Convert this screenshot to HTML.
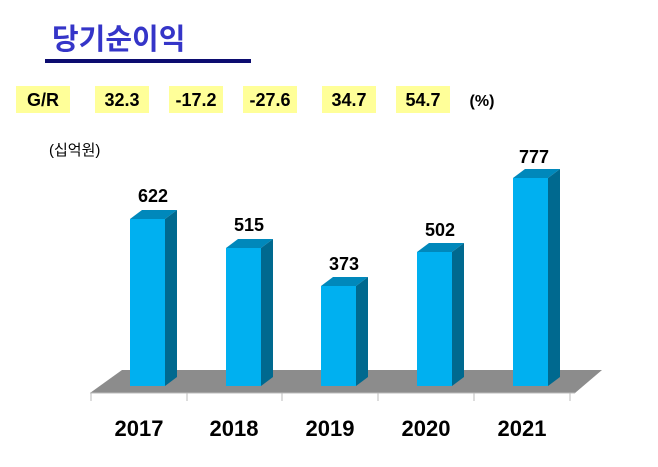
<!DOCTYPE html>
<html><head><meta charset="utf-8"><style>
body{margin:0;width:658px;height:462px;background:#fff;overflow:hidden;font-family:"Liberation Sans","Noto Sans CJK KR",sans-serif;}
</style></head><body>
<svg width="658" height="462" xmlns="http://www.w3.org/2000/svg" style="font-family:'Liberation Sans','Noto Sans CJK KR',sans-serif">
<text x="52" y="49" font-size="29" font-weight="bold" fill="#3535c8">당기순이익</text>
<rect x="45" y="59" width="206" height="4" fill="#0c0c70"/>
<g fill="#ffff99">
<rect x="16" y="86" width="54" height="27"/><rect x="95" y="86" width="54" height="27"/><rect x="169" y="86" width="54" height="27"/>
<rect x="243" y="86" width="54" height="27"/><rect x="322" y="86" width="54" height="27"/><rect x="396" y="86" width="54" height="27"/>
</g>
<g font-size="18" font-weight="bold" fill="#000" text-anchor="middle">
<text x="43" y="106">G/R</text><text x="122" y="106">32.3</text><text x="196" y="106">-17.2</text>
<text x="270" y="106">-27.6</text><text x="349" y="106">34.7</text><text x="423" y="106">54.7</text>
<text x="482" y="106" font-size="16">(%)</text>
</g>
<text x="49" y="155" font-size="15" fill="#000">(십억원)</text>
<polygon points="122,370 602,370 575,393 90,393" fill="#8c8c8c"/>
<line x1="90" y1="393" x2="575" y2="393" stroke="#bbb"/>
<g stroke="#bbb"><line x1="91" y1="393" x2="91" y2="401"/><line x1="187" y1="393" x2="187" y2="401"/><line x1="282" y1="393" x2="282" y2="401"/><line x1="378" y1="393" x2="378" y2="401"/><line x1="474" y1="393" x2="474" y2="401"/><line x1="570" y1="393" x2="570" y2="401"/></g>
<g id="bars">
<!-- bar: x, top -->
<polygon points="130,219 142,210 177,210 165,219" fill="#0088bb"/><polygon points="165,219 177,210 177,377 165,386" fill="#00698f"/><rect x="130" y="219" width="35" height="167" fill="#00b0f0"/>
<polygon points="226,248 238,239 273,239 261,248" fill="#0088bb"/><polygon points="261,248 273,239 273,377 261,386" fill="#00698f"/><rect x="226" y="248" width="35" height="138" fill="#00b0f0"/>
<polygon points="321,286 333,277 368,277 356,286" fill="#0088bb"/><polygon points="356,286 368,277 368,377 356,386" fill="#00698f"/><rect x="321" y="286" width="35" height="100" fill="#00b0f0"/>
<polygon points="417,252 429,243 464,243 452,252" fill="#0088bb"/><polygon points="452,252 464,243 464,377 452,386" fill="#00698f"/><rect x="417" y="252" width="35" height="134" fill="#00b0f0"/>
<polygon points="513,178 525,169 560,169 548,178" fill="#0088bb"/><polygon points="548,178 560,169 560,377 548,386" fill="#00698f"/><rect x="513" y="178" width="35" height="208" fill="#00b0f0"/>
</g>
<g font-size="18" font-weight="bold" fill="#000" text-anchor="middle">
<text x="153" y="202">622</text><text x="249" y="231">515</text><text x="344" y="270">373</text><text x="440" y="236">502</text><text x="534" y="163">777</text>
</g>
<g font-size="22" font-weight="bold" fill="#000" text-anchor="middle">
<text x="139" y="436">2017</text><text x="234" y="436">2018</text><text x="330" y="436">2019</text><text x="426" y="436">2020</text><text x="522" y="436">2021</text>
</g>
</svg>
</body></html>
